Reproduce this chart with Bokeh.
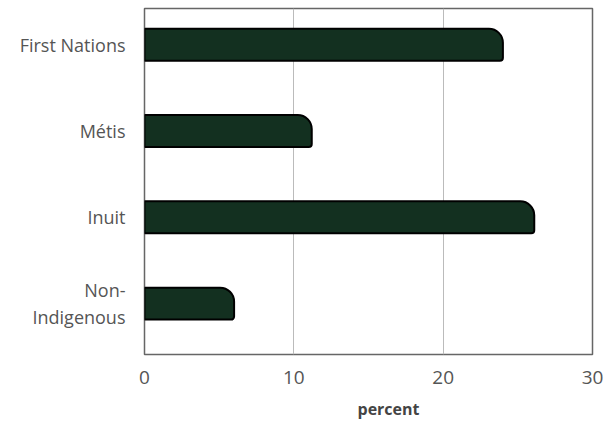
from bokeh.plotting import figure
from bokeh.models import Range1d, FixedTicker, Title
from bokeh.embed import file_html
from bokeh.resources import INLINE

categories = ["First Nations", "Métis", "Inuit", "Non-\nIndigenous"]
values = [24.0, 11.2, 26.1, 6.0]
x_ticks = [0, 10, 20, 30]
x_label = "percent"

FONT = "Open Sans"

n = len(categories)
ypos = [n - 0.5 - i for i in range(n)]

p = figure(
    width=611, height=428,
    y_range=Range1d(-0.09, n - 0.08),
    x_range=Range1d(0, 30),
    output_backend="svg", toolbar_location=None,
    min_border_top=8, min_border_right=19, min_border_left=144, min_border_bottom=74,
)

p.hbar(y=ypos, right=values, left=0, height=0.37,
       fill_color="#133020", line_color="#000000", line_width=2,
       border_radius=(0, 14, 3, 0))

p.outline_line_color = "#666666"
p.outline_line_width = 1.5

p.xaxis.ticker = FixedTicker(ticks=x_ticks)
p.xgrid.ticker = FixedTicker(ticks=[10, 20])
p.xgrid.grid_line_color = "#bbbbbb"
p.xgrid.grid_line_width = 1
p.ygrid.grid_line_color = None

p.yaxis.ticker = FixedTicker(ticks=ypos)
p.yaxis.major_label_overrides = {y: c for y, c in zip(ypos, categories)}

for ax in (p.xaxis, p.yaxis):
    ax.axis_line_color = None
    ax.major_tick_line_color = None
    ax.minor_tick_line_color = None
    ax.major_label_text_font = FONT
    ax.major_label_text_color = "#555555"

p.xaxis.major_label_text_font_size = "19px"
p.xaxis.major_label_standoff = 10
p.yaxis.major_label_text_font_size = "18px"
p.yaxis.major_label_text_line_height = 1.1
p.yaxis.major_label_standoff = 13

xt = Title(text=x_label, align="left", offset=213,
           text_font=FONT, text_font_style="bold", text_font_size="16px",
           text_color="#444444", standoff=18)
p.add_layout(xt, "below")

open("out.html", "w").write(file_html(p, INLINE))
